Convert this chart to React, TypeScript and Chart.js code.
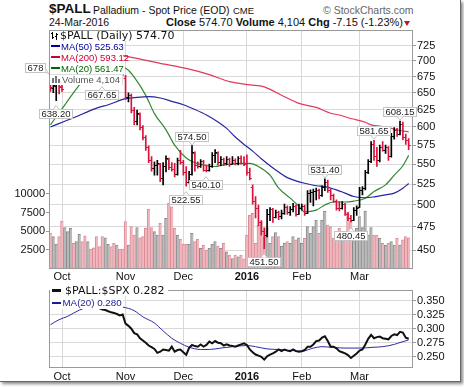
import React, { useEffect, useRef } from "react";
import { Chart, registerables } from "chart.js";
Chart.register(...registerables);

// ---------- categories ----------
const tradingDays: string[] = [
  "2015-09-25","2015-09-28","2015-09-29","2015-09-30","2015-10-01",
  "2015-10-02","2015-10-05","2015-10-06","2015-10-07","2015-10-08","2015-10-09","2015-10-12","2015-10-13","2015-10-14","2015-10-15","2015-10-16","2015-10-19","2015-10-20","2015-10-21","2015-10-22","2015-10-23","2015-10-26","2015-10-27","2015-10-28","2015-10-29","2015-10-30",
  "2015-11-02","2015-11-03","2015-11-04","2015-11-05","2015-11-06","2015-11-09","2015-11-10","2015-11-11","2015-11-12","2015-11-13","2015-11-16","2015-11-17","2015-11-18","2015-11-19","2015-11-20","2015-11-23","2015-11-24","2015-11-25","2015-11-27","2015-11-30",
  "2015-12-01","2015-12-02","2015-12-03","2015-12-04","2015-12-07","2015-12-08","2015-12-09","2015-12-10","2015-12-11","2015-12-14","2015-12-15","2015-12-16","2015-12-17","2015-12-18","2015-12-21","2015-12-22","2015-12-23","2015-12-24","2015-12-28","2015-12-29","2015-12-30","2015-12-31",
  "2016-01-04","2016-01-05","2016-01-06","2016-01-07","2016-01-08","2016-01-11","2016-01-12","2016-01-13","2016-01-14","2016-01-15","2016-01-19","2016-01-20","2016-01-21","2016-01-22","2016-01-25","2016-01-26","2016-01-27","2016-01-28","2016-01-29",
  "2016-02-01","2016-02-02","2016-02-03","2016-02-04","2016-02-05","2016-02-08","2016-02-09","2016-02-10","2016-02-11","2016-02-12","2016-02-16","2016-02-17","2016-02-18","2016-02-19","2016-02-22","2016-02-23","2016-02-24","2016-02-25","2016-02-26","2016-02-29",
  "2016-03-01","2016-03-02","2016-03-03","2016-03-04","2016-03-07","2016-03-08","2016-03-09","2016-03-10","2016-03-11","2016-03-14","2016-03-15","2016-03-16","2016-03-17","2016-03-18","2016-03-21","2016-03-22","2016-03-23","2016-03-24",
];
const monthStarts: string[] = ["2015-10-01", "2015-11-02", "2015-12-01", "2016-01-04", "2016-02-01", "2016-03-01"];
const monthLabels: string[] = ["Oct", "Nov", "Dec", "2016", "Feb", "Mar"];
const priceTicks: number[] = [450, 475, 500, 525, 550, 575, 600, 625, 650, 675, 700, 725];
const volumeTicks: number[] = [2500, 5000, 7500, 10000];
const ratioTicks: number[] = [0.25, 0.275, 0.3, 0.325, 0.35];

// ---------- $PALL daily OHLC ----------
const openP: number[] = [
  672, 657, 660, 664, 658,
  666, 677, 688, 696, 692, 699, 705, 701, 697, 709, 706, 699, 690, 680, 674, 689, 694, 690, 684, 695, 692,
  672, 643, 646, 624, 608, 619, 600, 586, 572, 556, 545, 549, 550, 532, 548, 557, 546, 544, 537, 556,
  553, 540, 527, 538, 565, 549, 548, 554, 543, 542, 548, 562, 565, 553, 557, 551, 557, 550, 556, 552, 558, 552,
  550, 540, 522, 505, 497, 480, 470, 466, 490, 495, 486, 492, 487, 491, 498, 492, 495, 499, 490,
  496, 499, 491, 514, 515, 517, 518, 512, 521, 527, 518, 512, 505, 497, 496, 501, 490, 485, 483, 494,
  498, 518, 520, 540, 554, 577, 560, 555, 573, 569, 572, 560, 588, 596, 590, 604, 586, 582,
];
const highP: number[] = [
  678, 668, 666, 670, 665,
  680, 692, 700, 704, 702, 710, 712, 708, 712, 718, 711, 704, 695, 684, 692, 698, 700, 695, 698, 702, 695,
  677, 650, 648, 628, 624, 620, 602, 588, 574, 560, 553, 555, 551, 552, 561, 558, 552, 551, 558, 568,
  555, 547, 541, 574.5, 566, 553, 556, 555, 549, 550, 565, 569, 566, 560, 558, 560, 558, 560, 557, 560, 561, 560,
  562, 545, 524, 510, 500, 482, 474, 495, 497, 496, 494, 493, 494, 501, 499, 498, 502, 500, 501,
  501, 500, 517, 518, 519, 520, 519, 523, 531.4, 530, 519, 513, 506, 504, 504, 502, 491, 488, 497, 499,
  521, 522, 542, 556, 580, 581.65, 572, 575, 580, 575, 573, 591, 599, 598, 608.15, 607, 590, 584,
];
const lowP: number[] = [
  652, 650, 638.2, 648, 652,
  665, 672, 684, 688, 686, 694, 698, 692, 694, 702, 696, 688, 676, 667.65, 672, 684, 686, 680, 681, 688, 676,
  640, 636, 620, 603, 603, 596, 582, 568, 552, 541, 536, 536, 528, 524, 540, 543, 541, 534, 536, 550,
  536, 522.55, 526, 536, 541, 545, 546, 541, 540.1, 541, 546, 552, 549, 548, 548, 549, 547, 550, 549, 549, 550, 548,
  536, 530, 501, 485, 476, 466, 451.5, 464, 482, 480, 485, 483, 484, 489, 489, 488, 492, 487, 489,
  494, 488, 490, 503, 499, 506, 507, 510, 517, 515, 506, 503, 494, 493, 495, 488, 482, 480.45, 482, 488,
  497, 512, 518, 538, 552, 555, 547, 553, 567, 564, 555, 559, 583, 587, 589, 582, 576, 569,
];
const closeP: number[] = [
  658, 662, 664, 660, 656,
  676, 688, 696, 692, 699, 705, 701, 697, 709, 706, 699, 690, 680, 674, 689, 694, 690, 684, 695, 692, 683,
  643, 647, 624, 608, 620, 600, 586, 572, 556, 545, 549, 551, 532, 548, 558, 546, 544, 537, 555, 553,
  540, 527, 538, 566, 549, 548, 554, 543, 542, 548, 562, 566, 553, 557, 551, 557, 550, 556, 552, 558, 552, 550,
  540, 533, 505, 497, 480, 470, 466, 490, 495, 486, 492, 487, 491, 498, 492, 495, 499, 490, 496,
  499, 491, 514, 515, 517, 518, 512, 521, 527, 518, 512, 505, 497, 496, 501, 490, 485, 483, 494, 496,
  518, 520, 540, 554, 577, 560, 555, 573, 569, 572, 560, 588, 596, 590, 604, 586, 581.85, 574.7,
];
const volume: number[] = [
  4720, 4270, 3250, 4270, 6370,
  5480, 4940, 5390, 3380, 3600, 4590, 3600, 4400, 3600, 2620, 2790, 4270, 2930, 4270, 4130, 3250, 2930, 3380, 3150, 2620, 2620,
  6280, 3150, 5610, 4500, 5480, 4130, 4270, 5390, 7980, 5480, 4940, 4500, 6070, 4500, 6740, 8750, 8290, 5390, 4500, 3960,
  3250, 3250, 3250, 4720, 3600, 3960, 2710, 3150, 2460, 2710, 3250, 3600, 3020, 2710, 3380, 2240, 1790, 1340, 1790, 1580, 1790, 1300,
  4500, 7180, 7400, 3380, 5840, 6280, 4270, 5480, 3380, 4270, 4810, 4270, 3020, 3380, 3600, 3380, 4270, 3830, 4130,
  3380, 4040, 5610, 4720, 5610, 6500, 4720, 6500, 7720, 5840, 5610, 4040, 3830, 5390, 4720, 4940, 7620, 6280, 4940, 5390,
  6950, 5480, 7720, 4500, 5480, 4500, 4500, 4040, 3380, 3150, 3380, 3600, 3150, 4040, 3150, 3830, 4270, 4104,
];

// ---------- moving averages ----------
const ma50: [string, number][] = [
  ["2015-09-25", 600], ["2015-10-07", 613], ["2015-10-19", 627], ["2015-10-23", 632], ["2015-11-02", 641],
  ["2015-11-06", 643], ["2015-11-12", 644], ["2015-11-18", 642], ["2015-11-24", 637], ["2015-12-01", 632],
  ["2015-12-07", 625], ["2015-12-11", 617], ["2015-12-17", 607], ["2015-12-22", 598], ["2015-12-28", 586],
  ["2015-12-31", 576], ["2016-01-06", 567], ["2016-01-11", 557], ["2016-01-14", 548], ["2016-01-20", 540],
  ["2016-01-25", 533], ["2016-01-28", 529], ["2016-02-02", 526], ["2016-02-08", 523], ["2016-02-11", 522],
  ["2016-02-18", 518], ["2016-02-23", 514], ["2016-02-26", 510], ["2016-03-03", 508.5], ["2016-03-08", 509.5],
  ["2016-03-14", 512], ["2016-03-17", 514], ["2016-03-22", 520], ["2016-03-24", 525.63],
];
const ma200: [string, number][] = [
  ["2015-09-25", 714], ["2015-10-09", 713], ["2015-10-23", 711], ["2015-11-02", 708], ["2015-11-05", 705],
  ["2015-11-18", 696], ["2015-12-02", 688], ["2015-12-14", 678], ["2015-12-23", 667], ["2016-01-05", 662],
  ["2016-01-12", 659], ["2016-01-22", 644], ["2016-01-29", 634], ["2016-02-08", 628], ["2016-02-16", 619.5],
  ["2016-02-19", 617], ["2016-02-25", 612], ["2016-03-03", 606.6], ["2016-03-07", 603], ["2016-03-14", 600],
  ["2016-03-21", 595], ["2016-03-24", 593.12],
];
const ma20: [string, number][] = [
  ["2015-09-25", 603], ["2015-10-01", 626], ["2015-10-07", 650], ["2015-10-13", 673], ["2015-10-19", 690],
  ["2015-10-23", 697], ["2015-10-29", 693], ["2015-11-03", 685], ["2015-11-05", 674], ["2015-11-11", 646],
  ["2015-11-16", 619], ["2015-11-20", 596], ["2015-11-25", 575], ["2015-12-02", 558], ["2015-12-07", 552],
  ["2015-12-10", 549], ["2015-12-16", 547], ["2015-12-21", 549], ["2015-12-30", 551], ["2016-01-05", 551],
  ["2016-01-08", 547], ["2016-01-14", 536], ["2016-01-20", 520], ["2016-01-26", 508], ["2016-01-29", 498.5],
  ["2016-02-02", 492], ["2016-02-08", 494], ["2016-02-11", 500], ["2016-02-17", 503.5], ["2016-02-23", 503.5],
  ["2016-02-26", 504.5], ["2016-03-03", 508], ["2016-03-08", 516], ["2016-03-14", 524], ["2016-03-17", 536],
  ["2016-03-22", 548], ["2016-03-24", 561.47],
];

// ---------- $PALL:$SPX ratio ----------
const ratio: number[] = [
  0.348, 0.352, 0.345, 0.342, 0.340,
  0.338, 0.340, 0.342, 0.343, 0.340, 0.342, 0.345, 0.342, 0.345, 0.344, 0.340, 0.338, 0.336, 0.334, 0.333, 0.331, 0.329, 0.328, 0.326, 0.3235, 0.325,
  0.309, 0.305, 0.300, 0.292, 0.290, 0.283, 0.279, 0.275, 0.270, 0.267, 0.264, 0.257, 0.259, 0.263, 0.262, 0.261, 0.268, 0.259, 0.262, 0.263,
  0.258, 0.2535, 0.266, 0.271, 0.269, 0.268, 0.272, 0.268, 0.271, 0.277, 0.274, 0.278, 0.275, 0.274, 0.270, 0.272, 0.270, 0.269, 0.268, 0.270, 0.272, 0.274,
  0.271, 0.263, 0.258, 0.254, 0.252, 0.250, 0.245, 0.251, 0.254, 0.256, 0.259, 0.263, 0.260, 0.263, 0.261, 0.260, 0.263, 0.260, 0.259,
  0.260, 0.262, 0.268, 0.268, 0.272, 0.278, 0.279, 0.284, 0.2865, 0.278, 0.268, 0.268, 0.265, 0.260, 0.258, 0.256, 0.253, 0.248, 0.252, 0.256,
  0.261, 0.263, 0.272, 0.282, 0.289, 0.283, 0.285, 0.286, 0.283, 0.282, 0.281, 0.287, 0.290, 0.2886, 0.2943, 0.293, 0.284, 0.282,
];
const ratioMa20: [string, number][] = [
  ["2015-09-25", 0.307], ["2015-09-30", 0.316], ["2015-10-05", 0.322], ["2015-10-09", 0.333], ["2015-10-14", 0.338],
  ["2015-10-20", 0.341], ["2015-10-26", 0.340], ["2015-10-30", 0.3384], ["2015-11-05", 0.332], ["2015-11-10", 0.321],
  ["2015-11-16", 0.310], ["2015-11-19", 0.296], ["2015-11-24", 0.283], ["2015-11-30", 0.274], ["2015-12-03", 0.267],
  ["2015-12-09", 0.263], ["2015-12-14", 0.263], ["2015-12-18", 0.2655], ["2015-12-24", 0.268], ["2016-01-04", 0.270],
  ["2016-01-07", 0.268], ["2016-01-13", 0.264], ["2016-01-20", 0.263], ["2016-01-27", 0.261], ["2016-02-01", 0.260],
  ["2016-02-05", 0.2655], ["2016-02-10", 0.268], ["2016-02-17", 0.2666], ["2016-02-23", 0.2655], ["2016-03-01", 0.2655],
  ["2016-03-08", 0.267], ["2016-03-11", 0.268], ["2016-03-17", 0.272], ["2016-03-21", 0.2754], ["2016-03-24", 0.280],
];

// ---------- high / low annotations ----------
const annotations: [string, number, string][] = [
  ["2015-09-25", 678, "left"],
  ["2015-09-29", 638.2, "below"],
  ["2015-10-21", 667.65, "below"],
  ["2015-12-04", 574.5, "above"],
  ["2015-12-02", 522.55, "below"],
  ["2015-12-11", 540.1, "below"],
  ["2016-01-12", 451.5, "below"],
  ["2016-02-11", 531.4, "above"],
  ["2016-02-25", 480.45, "below"],
  ["2016-03-08", 581.65, "above"],
  ["2016-03-21", 608.15, "above"],
];

const FONT = '"Liberation Sans", Arial, sans-serif';
const VFONT = '"DejaVu Sans", Verdana, sans-serif';
const GRID = "#d9d9d9";
const UP = "#000000";
const DOWN = "#d8143c";

export default function App() {
  const mainRef = useRef<HTMLCanvasElement>(null);
  const lowRef = useRef<HTMLCanvasElement>(null);

  useEffect(() => {
    const labels = [...tradingDays, ""];
    const tickIdx = monthStarts.map((d) => tradingDays.indexOf(d));
    const janIdx = tradingDays.indexOf("2016-01-04");
    const up = closeP.map((c, i) => (i === 0 ? c >= openP[0] : c >= closeP[i - 1]));
    const pts = (arr: [string, number][]) => arr.map(([d, v]) => ({ x: d, y: v }));

    const xScale = (h: number) => ({
      type: "category" as const,
      offset: true,
      grid: { offset: false, color: GRID, drawTicks: false, lineWidth: 1 },
      border: { display: false },
      ticks: {
        autoSkip: false,
        maxRotation: 0,
        padding: 2,
        color: "#111",
        font: (ctx: any) => ({
          family: FONT,
          size: 11,
          weight: ctx.tick && ctx.tick.value === janIdx ? "bold" : "normal",
        }),
        callback: (v: any) => {
          const k = tickIdx.indexOf(Number(v));
          return k >= 0 ? monthLabels[k] : "";
        },
      },
      afterBuildTicks: (s: any) => {
        s.ticks = tickIdx.map((v) => ({ value: v }));
      },
      afterFit: (s: any) => {
        s.height = h;
      },
    });

    const boxPlugin = {
      id: "plotBox",
      afterDraw(chart: any) {
        const { ctx, chartArea: a } = chart;
        ctx.save();
        ctx.strokeStyle = "#9a9a9a";
        ctx.lineWidth = 1;
        const l = Math.round(a.left) + 0.5;
        const t = Math.round(a.top) + 0.5;
        const r = Math.round(a.right) - 0.5;
        const b = Math.round(a.bottom) - 0.5;
        ctx.strokeRect(l, t, r - l, b - t);
        ctx.restore();
      },
    };

    const ohlcTicks = {
      id: "ohlcTicks",
      afterDatasetsDraw(chart: any) {
        const { ctx, chartArea: a } = chart;
        const xs = chart.scales.x;
        const ys = chart.scales.y;
        ctx.save();
        ctx.beginPath();
        ctx.rect(a.left, a.top, a.right - a.left, a.bottom - a.top);
        ctx.clip();
        ctx.lineWidth = 1;
        for (let i = 0; i < closeP.length; i++) {
          const px = xs.getPixelForValue(i);
          const yo = Math.round(ys.getPixelForValue(openP[i])) + 0.5;
          const yc = Math.round(ys.getPixelForValue(closeP[i])) + 0.5;
          ctx.strokeStyle = up[i] ? UP : DOWN;
          ctx.beginPath();
          ctx.moveTo(px - 2, yo);
          ctx.lineTo(px, yo);
          ctx.moveTo(px, yc);
          ctx.lineTo(px + 2, yc);
          ctx.stroke();
        }
        ctx.restore();
      },
    };

    const annotate = {
      id: "hiLoLabels",
      afterDraw(chart: any) {
        const { ctx } = chart;
        const xs = chart.scales.x;
        const ys = chart.scales.y;
        ctx.save();
        ctx.font = `9.5px ${FONT}`;
        ctx.textBaseline = "middle";
        ctx.textAlign = "center";
        for (const [d, v, side] of annotations) {
          const px = xs.getPixelForValue(tradingDays.indexOf(d));
          const py = ys.getPixelForValue(v);
          const txt = Number.isInteger(v) ? String(v) : v.toFixed(2);
          const w = Math.round(ctx.measureText(txt).width) + 5;
          const h = 10;
          let bx: number, by: number;
          if (side === "above") {
            bx = Math.round(px - w / 2);
            by = Math.round(py - 4 - h);
          } else if (side === "below") {
            bx = Math.round(px - w / 2);
            by = Math.round(py + 8.5);
          } else {
            bx = Math.round(px - 4 - w);
            by = Math.round(py - 12);
          }
          ctx.fillStyle = "#ffffff";
          ctx.strokeStyle = "#c4c4c4";
          ctx.lineWidth = 1;
          ctx.fillRect(bx, by, w, h);
          ctx.strokeRect(bx + 0.5, by + 0.5, w - 1, h - 1);
          // pointer
          ctx.beginPath();
          const cx = bx + w / 2;
          if (side === "above") {
            ctx.moveTo(cx - 3, by + h - 0.5);
            ctx.lineTo(cx, by + h + 3);
            ctx.lineTo(cx + 3, by + h - 0.5);
          } else if (side === "below") {
            ctx.moveTo(cx - 3, by + 0.5);
            ctx.lineTo(cx, by - 3.5);
            ctx.lineTo(cx + 3, by + 0.5);
          } else {
            ctx.moveTo(bx + w - 0.5, by + h - 4);
            ctx.lineTo(bx + w + 3, by + h + 1);
            ctx.lineTo(bx + w - 0.5, by + h - 1);
          }
          ctx.fill();
          ctx.stroke();
          ctx.fillStyle = "#222";
          ctx.fillText(txt, bx + w / 2, by + h / 2 + 0.5);
        }
        ctx.restore();
      },
    };

    const main = new Chart(mainRef.current as HTMLCanvasElement, {
      type: "bar",
      data: {
        labels,
        datasets: [
          {
            type: "bar",
            label: "Volume",
            data: volume,
            yAxisID: "vol",
            grouped: false,
            order: 10,
            barPercentage: 1,
            categoryPercentage: 1,
            backgroundColor: up.map((u) => (u ? "#b9b9b9" : "#f1b6bd")),
            borderColor: up.map((u) => (u ? "#8a8a8a" : "#d88d97")),
            borderWidth: { left: 1, top: 1, right: 0, bottom: 0 },
            borderSkipped: false,
          } as any,
          {
            type: "line",
            label: "MA(200)",
            data: pts(ma200) as any,
            yAxisID: "y",
            order: 5,
            borderColor: "#e23a5c",
            borderWidth: 1.2,
            pointRadius: 0,
            cubicInterpolationMode: "monotone",
          },
          {
            type: "line",
            label: "MA(50)",
            data: pts(ma50) as any,
            yAxisID: "y",
            order: 5,
            borderColor: "#2626a0",
            borderWidth: 1.2,
            pointRadius: 0,
            cubicInterpolationMode: "monotone",
          },
          {
            type: "line",
            label: "MA(20)",
            data: pts(ma20) as any,
            yAxisID: "y",
            order: 5,
            borderColor: "#2f8a2f",
            borderWidth: 1.2,
            pointRadius: 0,
            cubicInterpolationMode: "monotone",
          },
          {
            type: "bar",
            label: "$PALL",
            data: lowP.map((l, i) => [l, highP[i]]) as any,
            yAxisID: "y",
            grouped: false,
            order: 1,
            barThickness: 1,
            backgroundColor: up.map((u) => (u ? UP : DOWN)),
          } as any,
        ],
      },
      options: {
        responsive: false,
        animation: false,
        devicePixelRatio: 1,
        layout: { padding: { top: 30, left: 0, right: 0, bottom: 0 } },
        plugins: { legend: { display: false }, tooltip: { enabled: false } },
        scales: {
          x: xScale(14.5) as any,
          y: {
            type: "logarithmic",
            position: "right",
            min: 431,
            max: 752.6,
            grid: { color: GRID, tickLength: 3, tickColor: "#999" },
            border: { display: false },
            ticks: { padding: 1, color: "#111", font: { family: FONT, size: 11 }, callback: (v: any) => String(v) },
            afterBuildTicks: (s: any) => {
              s.ticks = priceTicks.map((v) => ({ value: v }));
            },
            afterFit: (s: any) => {
              s.width = 51;
            },
          } as any,
          vol: {
            type: "linear",
            position: "left",
            min: 0,
            max: 32000,
            grid: { drawOnChartArea: false, tickLength: 3, color: "#999" },
            border: { display: false },
            ticks: { padding: 1, color: "#111", font: { family: FONT, size: 11 }, callback: (v: any) => String(v) },
            afterBuildTicks: (s: any) => {
              s.ticks = volumeTicks.map((v) => ({ value: v }));
            },
            afterFit: (s: any) => {
              s.width = 49;
            },
          } as any,
        },
      },
      plugins: [ohlcTicks, boxPlugin, annotate],
    });

    const low = new Chart(lowRef.current as HTMLCanvasElement, {
      type: "line",
      data: {
        labels,
        datasets: [
          {
            label: "MA(20)",
            data: pts(ratioMa20) as any,
            borderColor: "#2b2ba6",
            borderWidth: 1,
            pointRadius: 0,
            cubicInterpolationMode: "monotone",
            order: 2,
          },
          {
            label: "$PALL:$SPX",
            data: ratio,
            borderColor: "#111111",
            borderWidth: 2,
            pointRadius: 0,
            order: 1,
          },
        ],
      },
      options: {
        responsive: false,
        animation: false,
        devicePixelRatio: 1,
        layout: { padding: { top: 2, left: 49, right: 0, bottom: 0 } },
        plugins: { legend: { display: false }, tooltip: { enabled: false } },
        scales: {
          x: xScale(14) as any,
          y: {
            type: "linear",
            position: "right",
            min: 0.2301,
            max: 0.3694,
            grid: { color: GRID, tickLength: 3, tickColor: "#999" },
            border: { display: false },
            ticks: { padding: 1, color: "#111", font: { family: FONT, size: 11 }, callback: (v: any) => Number(v).toFixed(3) },
            afterBuildTicks: (s: any) => {
              s.ticks = ratioTicks.map((v) => ({ value: v }));
            },
            afterFit: (s: any) => {
              s.width = 51;
            },
          } as any,
        },
      },
      plugins: [boxPlugin],
    });

    return () => {
      main.destroy();
      low.destroy();
    };
  }, []);

  const abs = (s: React.CSSProperties): React.CSSProperties => ({ position: "absolute", whiteSpace: "nowrap", ...s });
  const dash = (left: number, top: number, color: string, h = 2) => (
    <div style={abs({ left, top, width: 9, height: h, background: color })} />
  );

  return (
    <div style={abs({ left: 0, top: 0, width: 464, height: 387, background: "#fff", overflow: "hidden", fontFamily: FONT })}>
      <div
        style={abs({
          left: 0,
          top: 0,
          width: 460,
          height: 381,
          borderRight: "1px solid #666",
          borderBottom: "1px solid #666",
          boxShadow: "2px 2px 3px #888",
          background: "#fff",
        })}
      />
      {/* header */}
      <div style={abs({ left: 49, top: 2, fontSize: 13.5, lineHeight: "13.5px", fontWeight: "bold", color: "#111" })}>$PALL</div>
      <div style={abs({ left: 93, top: 5, fontSize: 10.5, lineHeight: "10.5px", color: "#111" })}>Palladium - Spot Price (EOD)</div>
      <div style={abs({ left: 233, top: 6, fontSize: 9.5, lineHeight: "9.5px", color: "#111" })}>CME</div>
      <div style={abs({ left: 323, top: 4.5, fontSize: 10.5, lineHeight: "10.5px", color: "#666" })}>© StockCharts.com</div>
      <div style={abs({ left: 49, top: 17, fontSize: 10.5, lineHeight: "10.5px", color: "#111" })}>24-Mar-2016</div>
      <div style={abs({ right: 61, top: 16.7, fontSize: 11, lineHeight: "11px", color: "#111" })}>
        <b>Close</b> 574.70 <b>Volume</b> 4,104 <b>Chg</b> -7.15 (-1.23%)
      </div>
      <div
        style={abs({
          left: 404,
          top: 21,
          width: 0,
          height: 0,
          borderLeft: "3.5px solid transparent",
          borderRight: "3.5px solid transparent",
          borderTop: "5px solid #c8102e",
        })}
      />

      <canvas ref={mainRef} width={464} height={283} style={abs({ left: 0, top: 0, width: 464, height: 283 })} />

      {/* main legend */}
      <div style={abs({ left: 50, top: 31, width: 131, height: 10, background: "#fff" })} />
      <div style={abs({ left: 52, top: 32, width: 1, height: 7, background: "#000" })} />
      <div style={abs({ left: 51, top: 33, width: 1, height: 1, background: "#000" })} />
      <div style={abs({ left: 53, top: 37, width: 1, height: 1, background: "#000" })} />
      <div style={abs({ left: 56, top: 33, width: 1, height: 7, background: "#000" })} />
      <div style={abs({ left: 55, top: 36, width: 1, height: 1, background: "#000" })} />
      <div style={abs({ left: 57, top: 34, width: 1, height: 1, background: "#000" })} />
      <div style={abs({ left: 60, top: 31, fontFamily: VFONT, fontSize: 11, lineHeight: "10px", color: "#111" })}>$PALL (Daily) 574.70</div>

      <div style={abs({ left: 50, top: 41, width: 74, height: 11, background: "#fff" })} />
      {dash(51, 45, "#000099")}
      <div style={abs({ left: 61, top: 41, fontSize: 9.5, lineHeight: "11px", color: "#000099" })}>MA(50) 525.63</div>

      <div style={abs({ left: 50, top: 52, width: 73, height: 11, background: "#fff" })} />
      {dash(51, 56, "#cc0033")}
      <div style={abs({ left: 61, top: 52, fontSize: 9.5, lineHeight: "11px", color: "#cc0033" })}>MA(200) 593.12</div>

      <div style={abs({ left: 50, top: 63, width: 75, height: 11, background: "#fff" })} />
      {dash(51, 67, "#006600")}
      <div style={abs({ left: 61, top: 63, fontSize: 9.5, lineHeight: "11px", color: "#006600" })}>MA(20) 561.47</div>

      <div style={abs({ left: 50, top: 74, width: 72, height: 10, background: "#fff", borderTop: "1px solid #ddd", borderRight: "1px solid #ddd" })} />
      <div style={abs({ left: 52, top: 78, width: 2, height: 5, background: "#777" })} />
      <div style={abs({ left: 55, top: 76, width: 2, height: 7, background: "#777" })} />
      <div style={abs({ left: 58, top: 79, width: 2, height: 4, background: "#777" })} />
      <div style={abs({ left: 62, top: 74, fontSize: 9.5, lineHeight: "11px", color: "#555" })}>Volume 4,104</div>

      <canvas ref={lowRef} width={464} height={100} style={abs({ left: 0, top: 282, width: 464, height: 100 })} />

      {/* lower legend */}
      <div style={abs({ left: 50, top: 285, width: 118, height: 11, background: "#fff" })} />
      {dash(52, 289, "#111", 2.5)}
      <div style={abs({ left: 65, top: 284.5, fontFamily: VFONT, fontSize: 11, lineHeight: "11px", color: "#111" })}>$PALL:$SPX 0.282</div>
      <div style={abs({ left: 50, top: 296, width: 73, height: 13, background: "#fff" })} />
      {dash(52, 301.5, "#1c1c8c")}
      <div style={abs({ left: 62.5, top: 296.5, fontSize: 9.75, lineHeight: "12px", color: "#1c1c8c" })}>MA(20) 0.280</div>
    </div>
  );
}
